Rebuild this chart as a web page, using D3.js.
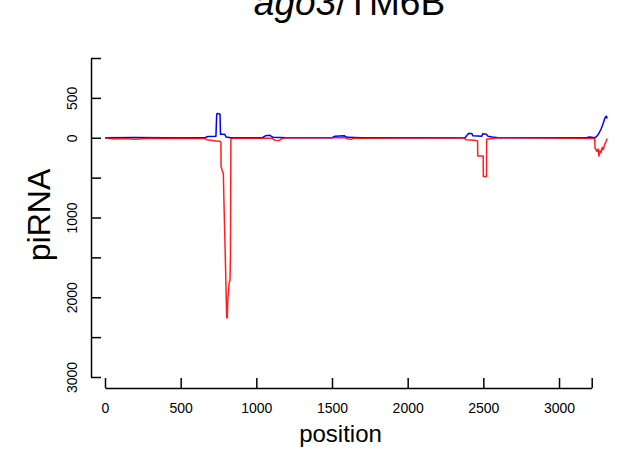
<!DOCTYPE html>
<html>
<head>
<meta charset="utf-8">
<script src="https://cdn.jsdelivr.net/npm/d3@7"></script>
<style>
  html, body { margin: 0; padding: 0; background: #fff; }
  svg { display: block; font-family: "Liberation Sans", Arial, Helvetica, sans-serif; }
</style>
</head>
<body>
<svg id="chart" width="618" height="453"></svg>
<script>
// ---- data ----
const titleItalic = "ago3";
const titleRest = "/TM6B";
const xLabel = "position";
const yLabel = "piRNA";

const xTickValues = [0, 500, 1000, 1500, 2000, 2500, 3000, 3216];
const xTickLabels = ["0", "500", "1000", "1500", "2000", "2500", "3000", ""];
const yTickValues = [1000, 500, 0, -500, -1000, -1500, -2000, -2500, -3000];
const yTickLabels = ["", "500", "0", "", "1000", "", "2000", "", "3000"];

// sense (blue) reads
const sensePos = [0, 200, 400, 660, 680, 733, 738, 742, 752, 760, 763, 790, 800, 830, 1040, 1060, 1090, 1110, 1200, 1500, 1520, 1580, 1600, 1700, 2380, 2395, 2405, 2425, 2430, 2490, 2496, 2520, 2530, 2560, 2600, 3180, 3200, 3215, 3232, 3245, 3255, 3265, 3278, 3290, 3300, 3308, 3314, 3318];
const senseVal = [0, 3, 0, 0, 15, 20, 290, 305, 300, 295, 45, 45, 10, 0, 0, 25, 30, 5, 0, 0, 20, 25, 5, 0, 0, 40, 55, 50, 25, 20, 50, 45, 20, 10, 0, 0, 10, 5, 0, 10, 30, 60, 110, 170, 230, 265, 270, 240];

// antisense (red) reads, drawn below zero
const antiPos = [0, 60, 120, 200, 300, 400, 500, 600, 660, 672, 700, 733, 760, 766, 767, 776, 782, 786, 795, 804, 808, 812, 815, 821, 826, 829, 832, 850, 1100, 1123, 1150, 1170, 1200, 1590, 1605, 1625, 1645, 2370, 2385, 2440, 2462, 2463, 2499, 2500, 2521, 2522, 2535, 2560, 2600, 3150, 3200, 3236, 3238, 3245, 3250, 3258, 3264, 3270, 3278, 3285, 3293, 3300, 3310, 3318];
const antiVal = [0, -15, -10, -20, -5, -10, -5, -8, -10, -25, -30, -40, -45, -60, -360, -420, -450, -800, -1500, -2250, -2260, -2000, -1960, -1810, -1790, -1500, -10, -5, -5, -30, -35, -10, 0, 0, -15, -20, -5, 0, -25, -30, -40, -230, -230, -485, -485, -20, -15, -10, 0, -5, -10, -10, -130, -150, -170, -140, -230, -160, -190, -120, -150, -90, -50, -10];

// ---- drawing ----
const svg = d3.select("#chart");

const x = d3.scaleLinear().domain([0, 3216]).range([105, 591.7]);
const y = d3.scaleLinear().domain([1000, -3000]).range([58, 377]);

// title
const title = svg.append("text")
  .attr("x", 349.5).attr("y", 15)
  .attr("text-anchor", "middle")
  .style("font-size", "37px")
  .style("fill", "#000");
title.append("tspan").style("font-style", "italic").text(titleItalic);
title.append("tspan").text(titleRest);

// lines
const line = d3.line().x(d => x(d[0])).y(d => y(d[1]));
const senseData = sensePos.map((p, i) => [p, senseVal[i]]);
const antiData = antiPos.map((p, i) => [p, antiVal[i]]);

svg.append("path").datum(senseData)
  .attr("d", line).attr("fill", "none")
  .attr("stroke", "#0000ff").attr("stroke-width", 1.5)
  .attr("stroke-linejoin", "round");
svg.append("path").datum(antiData)
  .attr("d", line).attr("fill", "none")
  .attr("stroke", "#ff0000").attr("stroke-width", 1.5)
  .attr("stroke-opacity", 0.88)
  .attr("stroke-linejoin", "round");

// x axis
const xAxis = d3.axisBottom(x)
  .tickValues(xTickValues)
  .tickFormat((d, i) => xTickLabels[i])
  .tickSize(-10).tickSizeOuter(0);
const gx = svg.append("g").attr("transform", "translate(0,388)").call(xAxis);
gx.selectAll("text").attr("y", 15).style("font-size", "14px").style("fill", "#000")
  .style("font-family", "Liberation Sans, Arial, sans-serif");
gx.selectAll("line, path").attr("stroke", "#000").attr("stroke-width", 1.5);

// y axis
const yAxis = d3.axisLeft(y)
  .tickValues(yTickValues)
  .tickFormat((d, i) => yTickLabels[i])
  .tickSize(-10).tickSizeOuter(0);
const gy = svg.append("g").attr("transform", "translate(91,0)").call(yAxis);
gy.selectAll("text")
  .attr("x", 0).attr("dy", 0)
  .attr("text-anchor", "middle")
  .attr("transform", "translate(-14,0) rotate(-90)")
  .style("font-size", "14px").style("fill", "#000")
  .style("font-family", "Liberation Sans, Arial, sans-serif");
gy.selectAll("line, path").attr("stroke", "#000").attr("stroke-width", 1.5);

// axis titles
svg.append("text")
  .attr("x", 340.5).attr("y", 442)
  .attr("text-anchor", "middle")
  .style("font-size", "24px").style("fill", "#000")
  .text(xLabel);
svg.append("text")
  .attr("transform", "translate(50,215) rotate(-90)")
  .attr("text-anchor", "middle")
  .style("font-size", "32px").style("fill", "#000")
  .text(yLabel);
</script>
</body>
</html>
